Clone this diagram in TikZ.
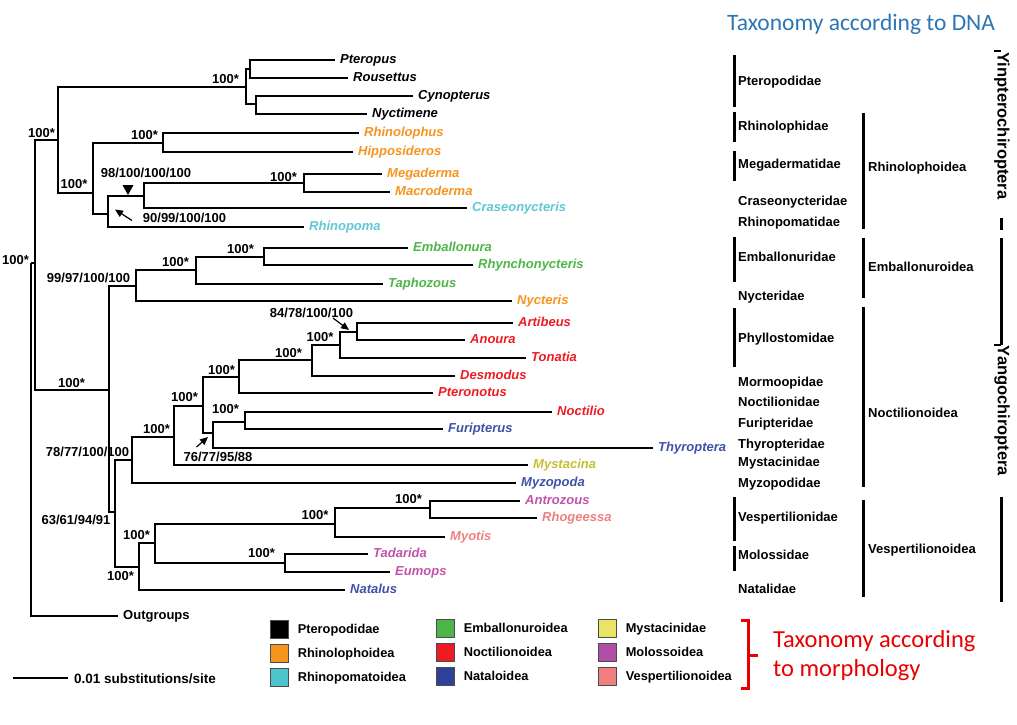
\documentclass[tikz,border=0pt]{standalone}
\usepackage{fontspec}
\setmainfont{Liberation Sans}
\newfontfamily\titlefont{Carlito}
\usetikzlibrary{arrows.meta}

\definecolor{orng}{RGB}{246,148,32}
\definecolor{cyn}{RGB}{78,196,204}
\definecolor{grn}{RGB}{76,182,72}
\definecolor{rd}{RGB}{237,28,36}
\definecolor{blu}{RGB}{46,64,152}
\definecolor{ylw}{RGB}{234,228,100}
\definecolor{prp}{RGB}{176,78,168}
\definecolor{pnk}{RGB}{240,128,128}
\definecolor{cyntxt}{RGB}{96,200,210}
\definecolor{blutxt}{RGB}{62,82,168}
\definecolor{ylwtxt}{RGB}{196,192,52}
\definecolor{prptxt}{RGB}{192,84,172}
\definecolor{dnablue}{RGB}{46,117,182}
\definecolor{morphred}{RGB}{232,0,0}

\tikzset{
  branch/.style={line width=1.5pt},
  taxon/.style={anchor=west,inner xsep=5pt,inner ysep=0pt,text height=6.3pt,text depth=0pt,font=\fontsize{13}{15}\selectfont\bfseries\itshape},
  boot/.style={inner sep=0pt,text height=9pt,text depth=0pt,font=\fontsize{13}{15}\selectfont\bfseries},
  fam/.style={anchor=west,inner xsep=3pt,inner ysep=0pt,text height=9.3pt,text depth=0pt,font=\fontsize{13}{15}\selectfont\bfseries},
  bar/.style={line width=3pt},
  legbox/.style={draw=black!70,line width=0.6pt,minimum width=18pt,minimum height=18pt,inner sep=0pt},
  pointer/.style={line width=1.2pt,-{Triangle[length=8pt,width=7pt]}},
}

\begin{document}
\begin{tikzpicture}[x=1pt,y=-1pt]
\useasboundingbox (0,0) rectangle (1017,724);

% inner nodes of the tree
\foreach \n/\x/\y in {root/31/263,chir/35/263,yin/58/140,ptero/246/87,pta/250/69,ptb/256/104,
  rhl/93/193,rhd/163/143,rhm/108/214,megc/144/196,megm/304/183,
  yang/109/390,emb/136/286,embb/196/270,embc/264/257,yb/115/512,
  noc/132/460,nocb/174/437,nocc/203/406,phm/239/377,pha/312/360,phb/340/345,phc/357/332,
  nft/213/433,nfb/245/422,vesp/139/567,vsp/155/543,ves/335/524,vesb/430/508,mol/285/563}
  \coordinate (\n) at (\x,\y);

\foreach \n/\x/\y/\c/\t in {pteropus/335/60/black/Pteropus,rousettus/348/78/black/Rousettus,
  cynopterus/413/96/black/Cynopterus,nyctimene/367/114/black/Nyctimene,
  rhinolophus/359/133/orng/Rhinolophus,hipposideros/353/152/orng/Hipposideros,
  megaderma/382/174/orng/Megaderma,macroderma/390/192/orng/Macroderma,
  craseonycteris/467/208/cyntxt/Craseonycteris,rhinopoma/304/227/cyntxt/Rhinopoma,
  emballonura/408/248/grn/Emballonura,rhynchonycteris/473/265/grn/Rhynchonycteris,
  taphozous/383/284/grn/Taphozous,nycteris/512/301/orng/Nycteris,
  artibeus/513/323/rd/Artibeus,anoura/465/340/rd/Anoura,tonatia/526/358/rd/Tonatia,
  desmodus/455/376/rd/Desmodus,pteronotus/433/393/rd/Pteronotus,noctilio/552/412/rd/Noctilio,
  furipterus/443/429/blutxt/Furipterus,thyroptera/653/448/blutxt/Thyroptera,
  mystacina/528/465/ylwtxt/Mystacina,myzopoda/516/483/blutxt/Myzopoda,
  antrozous/520/501/prptxt/Antrozous,rhogeessa/537/518/pnk/Rhogeessa,myotis/445/537/pnk/Myotis,
  tadarida/368/554/prptxt/Tadarida,eumops/390/572/prptxt/Eumops,natalus/345/590/blutxt/Natalus}
  \node[taxon,text=\c] (\n) at (\x,\y) {\t};
\node[taxon,font=\fontsize{13}{15}\selectfont\bfseries] (outgroups) at (118,616) {Outgroups};

\foreach \p/\c in {root/chir,chir/yin,chir/yang,yin/ptero,yin/rhl,ptero/pta,ptero/ptb,
  rhl/rhd,rhl/rhm,rhm/megc,megc/megm,yang/emb,yang/yb,emb/embb,embb/embc,yb/noc,yb/vesp,
  noc/nocb,nocb/nocc,nocc/phm,nocc/nft,phm/pha,pha/phb,phb/phc,nft/nfb,
  vesp/vsp,vsp/ves,vsp/mol,ves/vesb}
  \draw[branch] (\p) |- (\c);
\foreach \p/\c in {pta/pteropus,pta/rousettus,ptb/cynopterus,ptb/nyctimene,
  rhd/rhinolophus,rhd/hipposideros,megm/megaderma,megm/macroderma,megc/craseonycteris,rhm/rhinopoma,
  embc/emballonura,embc/rhynchonycteris,embb/taphozous,emb/nycteris,
  phc/artibeus,phc/anoura,phb/tonatia,pha/desmodus,phm/pteronotus,nfb/noctilio,nfb/furipterus,
  nft/thyroptera,nocb/mystacina,noc/myzopoda,vesb/antrozous,vesb/rhogeessa,ves/myotis,
  mol/tadarida,mol/eumops,vesp/natalus,root/outgroups}
  \draw[branch] (\p) |- (\c.west);

% support values
\foreach \n/\x/\y/\t in {broot/15.5/260/100*,byin/41.5/133/100*,bptero/225.5/79/100*,
  brhl/74/184/100*,brhd/144.5/135/100*,bmegm/283.5/177/100*,
  bmegc/146/173/98\slash100\slash100\slash100,brhm/184.5/218/90\slash99\slash100\slash100,
  byang/71.5/383/100*,bemb/88.5/278/99\slash97\slash100\slash100,bembb/175.5/262/100*,bembc/240.5/249/100*,
  bphc/311.5/313/84\slash78\slash100\slash100,bphb/320/337/100*,bpha/288.5/353/100*,bphm/221.5/370/100*,
  bnocc/184.5/397/100*,bnfb/225.5/409/100*,bnocb/156.5/429/100*,
  bnft/218/457/76\slash77\slash95\slash88,bnoc/87.5/452/78\slash77\slash100\slash100,
  byb/76/520/63\slash61\slash94\slash91,bvesb/408.5/499/100*,bves/315/515/100*,
  bvsp/136.5/535/100*,bmol/261.5/553/100*,bvesp/120.5/576/100*}
  \node[boot] (\n) at (\x,\y) {\t};

\fill (122.5,185) -- (133.5,185) -- (128,195) -- cycle;
\coordinate (arA) at (132,220.5);
\coordinate (arB) at (115,209.5);
\draw[pointer] (arA) -- (arB);
\coordinate (arC) at (333,318);
\coordinate (arD) at (349,330);
\draw[pointer] (arC) -- (arD);
\coordinate (arE) at (196.5,447);
\coordinate (arF) at (208,437);
\draw[pointer] (arE) -- (arF);

% scale bar
\coordinate (sbl) at (13,678);
\coordinate (sbr) at (68,678);
\draw[branch] (sbl) -- (sbr);
\node[anchor=west,inner sep=0pt,font=\fontsize{13.5}{15}\selectfont\bfseries] (sbtxt) at (74,679) {0.01 substitutions/site};

% legend
\foreach \c/\x/\y/\t in {black/270/629/Pteropodidae,orng/270/653/Rhinolophoidea,cyn/270/677/Rhinopomatoidea,
  grn/436/628/Emballonuroidea,rd/436/652/Noctilionoidea,blu/436/676/Nataloidea,
  ylw/598/628/Mystacinidae,prp/598/652/Molossoidea,pnk/598/676/Vespertilionoidea}
  \node[legbox,fill=\c,anchor=west] (sq\t) at (\x,\y) {}
    node[fam,font=\fontsize{12.8}{14}\selectfont\bfseries,anchor=west] at ([xshift=6pt]sq\t.east) {\t};

\draw[morphred,line width=3pt] (741,620) -- (748,620) -- (748,688) -- (741,688);
\draw[morphred,line width=3pt] (748,655) -- (758,655);
\node[anchor=base west,inner sep=0pt,text=morphred,font=\titlefont\fontsize{24.5}{28}\selectfont] (morph1) at (773,647) {Taxonomy according};
\node[anchor=base west,inner sep=0pt,text=morphred,font=\titlefont\fontsize{24.5}{28}\selectfont] (morph2) at (773,676) {to morphology};

% DNA taxonomy
\node[anchor=base west,inner sep=0pt,text=dnablue,font=\titlefont\fontsize{23.5}{26}\selectfont] (dnatitle) at (727,30) {Taxonomy according to DNA};
\foreach \a/\b in {55/107,112/142,151/181,237/282,308/367,497/541,546/571}
  \draw[bar] (734,\a) -- (734,\b);
\foreach \a/\b in {113/229,238/298,307/487,500/597}
  \draw[bar] (863,\a) -- (863,\b);
\foreach \y/\t in {81/Pteropodidae,126/Rhinolophidae,164/Megadermatidae,201/Craseonycteridae,
  222/Rhinopomatidae,257/Emballonuridae,296/Nycteridae,338/Phyllostomidae,382/Mormoopidae,
  402/Noctilionidae,423/Furipteridae,444/Thyropteridae,462/Mystacinidae,483/Myzopodidae,
  517/Vespertilionidae,555/Molossidae,589/Natalidae}
  \node[fam] (f\t) at (735,\y) {\t};
\foreach \y/\t in {167/Rhinolophoidea,267/Emballonuroidea,413/Noctilionoidea,549/Vespertilionoidea}
  \node[fam] (s\t) at (865,\y) {\t};

\draw[line width=2pt] (994,51) -- (1001,51);
\node[rotate=-90,inner sep=0pt,font=\fontsize{16.5}{18}\selectfont\bfseries] (yinpt) at (1002,126) {Yinpterochiroptera};
\draw[bar] (1001,218) -- (1001,230);
\draw[bar] (1001,238) -- (1001,345);
\draw[line width=2pt] (994,345) -- (1001,345);
\node[rotate=-90,inner sep=0pt,font=\fontsize{16.5}{18}\selectfont\bfseries] (yangt) at (1002,411) {Yangochiroptera};
\draw[bar] (1001,497) -- (1001,602);
\end{tikzpicture}
\end{document}
